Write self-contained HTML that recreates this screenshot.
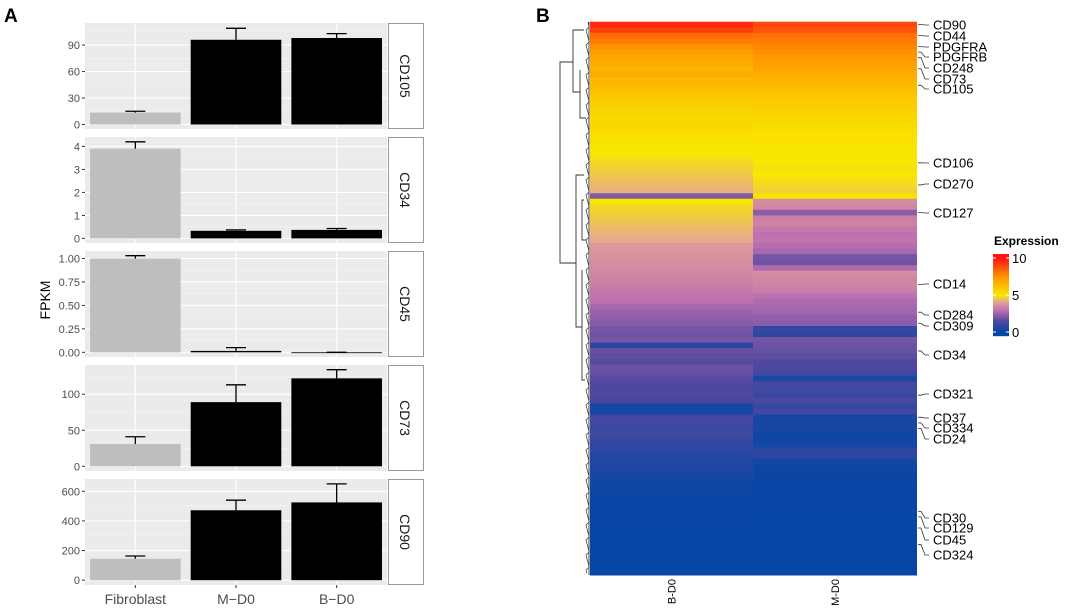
<!DOCTYPE html>
<html><head><meta charset="utf-8"><style>
html,body{margin:0;padding:0;background:#fff;}
svg{display:block;font-family:"Liberation Sans",sans-serif;}
</style></head><body>
<svg id="chart" width="1065" height="611" xmlns="http://www.w3.org/2000/svg">
<text x="4" y="22" font-size="19" font-weight="bold">A</text>
<text x="536" y="22" font-size="19" font-weight="bold">B</text>
<text transform="translate(50,300) rotate(-90)" text-anchor="middle" font-size="14" fill="#000">FPKM</text>
<g id="barpanels"></g>
<g id="heat"></g>
</svg>
<script>
const categories=["Fibroblast","M\u2212D0","B\u2212D0"];
const facets=["CD105","CD34","CD45","CD73","CD90"];
const means=[[13.5,96,98],[3.9,0.33,0.37],[1.0,0.015,0],[31,89,122],[145,472,525]];
const errs=[[15,109,103],[4.2,0.37,0.43],[1.03,0.05,0],[41,113,134],[163,540,650]];
const ticks=[[0,30,60,90],[0,1,2,3,4],[0,0.25,0.5,0.75,1.0],[0,50,100],[0,200,400,600]];
const tickLabels=[["0","30","60","90"],["0","1","2","3","4"],["0.00","0.25","0.50","0.75","1.00"],["0","50","100"],["0","200","400","600"]];
const domains=[[-5.1,115],[-0.2,4.41],[-0.05,1.08],[-6.5,140.5],[-32.5,683]];
const NS="http://www.w3.org/2000/svg";
function mk(p,t,a){const e=document.createElementNS(NS,t);for(const k in a)e.setAttribute(k,a[k]);p.appendChild(e);return e;}
const bp=document.getElementById('barpanels');
const panelTops=[23,137,251,365,479],PH=106,PX0=85,PX1=387;
const band=(PX1-PX0)/3;
function xs(i){return PX0+band*(i+0.5);}
facets.forEach((f,pi)=>{
  const top=panelTops[pi],bot=top+PH,d=domains[pi];
  const ys=v=>bot-(v-d[0])/(d[1]-d[0])*PH;
  const g=mk(bp,'g',{});
  
  
  mk(g,'rect',{x:PX0,y:top,width:PX1-PX0,height:PH,fill:'#EBEBEB'});
  const tk=ticks[pi],step=tk[1]-tk[0];
  for(let k=0;k<tk.length+1;k++){const v=tk[0]+step*(k+0.5);if(v>d[0]&&v<d[1])mk(g,'line',{x1:PX0,x2:PX1,y1:ys(v),y2:ys(v),stroke:'#F5F5F5','stroke-width':0.6});}
  tk.forEach((v,k)=>{
    mk(g,'line',{x1:PX0,x2:PX1,y1:ys(v),y2:ys(v),stroke:'#fff','stroke-width':1.1});
    mk(g,'line',{x1:PX0-3,x2:PX0,y1:ys(v),y2:ys(v),stroke:'#333','stroke-width':1});
    const t=mk(g,'text',{x:PX0-5,y:ys(v)+4,'text-anchor':'end','font-size':11,fill:'#4D4D4D'});
    t.textContent=tickLabels[pi][k];
    
    
  });
  categories.forEach((c,i)=>mk(g,'line',{x1:xs(i),x2:xs(i),y1:top,y2:bot,stroke:'#fff','stroke-width':1.1}));
  categories.forEach((c,i)=>{
    const bw=band*0.9,y0=ys(0),y1=ys(means[pi][i]),ye=ys(errs[pi][i]);
    const r=mk(g,'rect',{x:xs(i)-bw/2,y:Math.min(y0,y1),width:bw,height:Math.max(Math.abs(y0-y1),0.8),fill:i==0?'#BEBEBE':'#000'});
    
    
    mk(g,'line',{x1:xs(i),x2:xs(i),y1:y1,y2:ye,stroke:'#000','stroke-width':1.3});
    mk(g,'line',{x1:xs(i)-10,x2:xs(i)+10,y1:ye,y2:ye,stroke:'#000','stroke-width':1.3});
  });
  mk(g,'rect',{x:388.5,y:top+0.5,width:35,height:PH-1,fill:'#fff',stroke:'#999','stroke-width':1});
  const st=mk(g,'text',{transform:`translate(400,${top+PH/2}) rotate(90)`,'text-anchor':'middle','font-size':14,fill:'#1A1A1A'});
  st.textContent=f;
  
  
});
categories.forEach((c,i)=>{
  mk(bp,'line',{x1:xs(i),x2:xs(i),y1:585,y2:588,stroke:'#333'});
  const t=mk(bp,'text',{x:xs(i),y:604,'text-anchor':'middle','font-size':14,fill:'#4D4D4D'});
  t.textContent=c;
  
  
});

// Heatmap
const heatCols=["B-D0","M-D0"];
const valsB=[9.6,9.2,8.3,8.0,7.6,7.3,7.0,6.8,6.6,6.8,6.5,6.4,6.2,6.0,5.8,5.7,5.6,5.5,5.5,5.4,5.3,5.2,5.1,5.0,4.9,4.8,4.7,4.6,4.5,4.4,4.3,2.2,5.0,4.8,4.7,4.6,4.5,4.4,4.3,4.2,3.9,3.8,3.7,3.6,3.6,3.5,3.4,3.3,3.2,3.1,3.0,2.7,2.5,2.4,2.2,2.0,1.9,2.0,0.8,1.8,1.7,1.6,1.9,1.8,1.6,1.5,1.4,1.5,1.3,0.4,0.4,1.3,1.2,1.1,1.2,1.0,0.9,0.8,0.7,0.6,0.6,0.5,0.4,0.3,0.25,0.2,0.2,0.2,0.15,0.15,0.15,0.15,0.15,0.1,0.1,0.1,0.1,0.1,0.1,0.1];
const valsM=[9.0,8.8,8.2,8.0,7.8,7.6,7.4,7.2,7.0,6.8,6.6,6.4,6.2,6.0,5.9,5.8,5.6,5.5,5.4,5.3,5.2,5.2,5.1,5.0,5.1,5.0,4.9,5.0,4.9,4.8,4.7,5.2,3.6,3.5,2.3,3.3,3.4,3.2,3.0,3.1,2.9,2.7,2.0,1.9,2.8,3.6,3.5,3.4,3.3,3.0,2.8,2.7,2.6,2.4,2.3,1.0,0.9,2.0,1.9,1.8,1.7,1.5,1.4,1.2,0.5,1.3,1.2,1.1,1.4,1.0,1.2,0.5,0.4,0.5,0.3,0.3,0.4,0.9,0.8,0.4,0.3,0.2,0.2,0.2,0.15,0.15,0.15,0.15,0.1,0.1,0.1,0.1,0.1,0.1,0.1,0.1,0.1,0.1,0.1,0.1];
const rowLabels=["CD90","CD44","PDGFRA","PDGFRB","CD248","CD73","CD105","CD106","CD270","CD127","CD14","CD284","CD309","CD34","CD321","CD37","CD334","CD24","CD30","CD129","CD45","CD324"];
const rowLabelIdx=[0,2,4,5,6,8,11,25,29,34,47,52,54,59,67,71,72,73,88,89,91,94];
const legendTicks=[0,5,10];
const stops=[[0,[0,70,166]],[1.5,[80,72,160]],[3,[190,112,176]],[4.2,[232,168,144]],[5,[248,232,0]],[7.5,[255,150,0]],[10,[255,20,20]]];
function col(v){
  for(let i=1;i<stops.length;i++){if(v<=stops[i][0]){const a=stops[i-1],b=stops[i],t=(v-a[0])/(b[0]-a[0]);return 'rgb('+a[1].map((c,k)=>Math.round(c+(b[1][k]-c)*t)).join(',')+')';}}
  return 'rgb(255,20,20)';
}
const hm=document.getElementById('heat');
const HX0=590,HXM=753,HX1=917,HY0=21.7,HY1=575,N=valsB.length,RH=(HY1-HY0)/N;
const ry=i=>HY0+RH*i;
[valsB,valsM].forEach((arr,c)=>{
  arr.forEach((v,i)=>{
    const r=mk(hm,'rect',{x:c?HXM:HX0,y:ry(i),width:c?HX1-HXM:HXM-HX0,height:RH+0.5,fill:col(v)});
    
    
  });
});
const labYs=[25,36,47,57,68,79,89,163,184,213,284,315,326,355,394,418,428,439,518,528,540,555];
rowLabels.forEach((l,k)=>{
  const y0=ry(rowLabelIdx[k])+RH/2,y1=labYs[k];
  mk(hm,'path',{d:`M918,${y0} L921,${y0} L925,${y1} L929,${y1}`,fill:'none',stroke:'#333','stroke-width':0.8});
  const t=mk(hm,'text',{x:933,y:y1+4.5,'font-size':13,fill:'#000'});
  t.textContent=l;
  
  
});
heatCols.forEach((c,i)=>{
  const x=i?(HXM+HX1)/2:(HX0+HXM)/2;
  const t=mk(hm,'text',{transform:`translate(${x+4},579) rotate(-90)`,'text-anchor':'end','font-size':11,fill:'#000'});
  t.textContent=c;
  
  
});
// dendrogram (approximate)
const dg=mk(hm,'g',{stroke:'#333','stroke-width':0.9,fill:'none'});


mk(dg,'path',{d:'M573,62 L560,62 L560,263 L576,263'});
mk(dg,'path',{d:'M584,30 L573,30 L573,92 L580,92'});
mk(dg,'path',{d:'M580,70 L580,118 L586,118'});
mk(dg,'path',{d:'M584,175 L576,175 L576,327 L582,327'});
mk(dg,'path',{d:'M584,200 L582,200 L582,240 L586,240'});
mk(dg,'path',{d:'M582,270 L582,380 L585,380'});
let dp='M588,22';for(let y=24;y<575;y+=3){dp+=` L${586+(y*7%5)*0.8},${y}`;}
mk(dg,'path',{d:dp,'stroke-width':0.7});
mk(dg,'line',{x1:589,x2:589,y1:22,y2:575});
// legend
const lt=mk(hm,'text',{x:994,y:245,'font-size':12,'font-weight':'bold',fill:'#000'});
lt.textContent='Expression';


const LY0=332,LY10=258,LB=254,LT=336;
const ly=v=>LY0-(v/10)*(LY0-LY10);
for(let y=LB;y<LT;y+=1){const v=Math.max(0,Math.min(10,(LY0-y)/(LY0-LY10)*10));mk(hm,'rect',{x:993,y:y,width:16,height:1.2,fill:col(v)});}
legendTicks.forEach(v=>{
  mk(hm,'line',{x1:993,x2:996,y1:ly(v),y2:ly(v),stroke:'#fff'});
  mk(hm,'line',{x1:1006,x2:1009,y1:ly(v),y2:ly(v),stroke:'#fff'});
  const t=mk(hm,'text',{x:1012,y:ly(v)+5,'font-size':13,fill:'#000'});
  t.textContent=String(v);
  
  
});
</script>
</body></html>
